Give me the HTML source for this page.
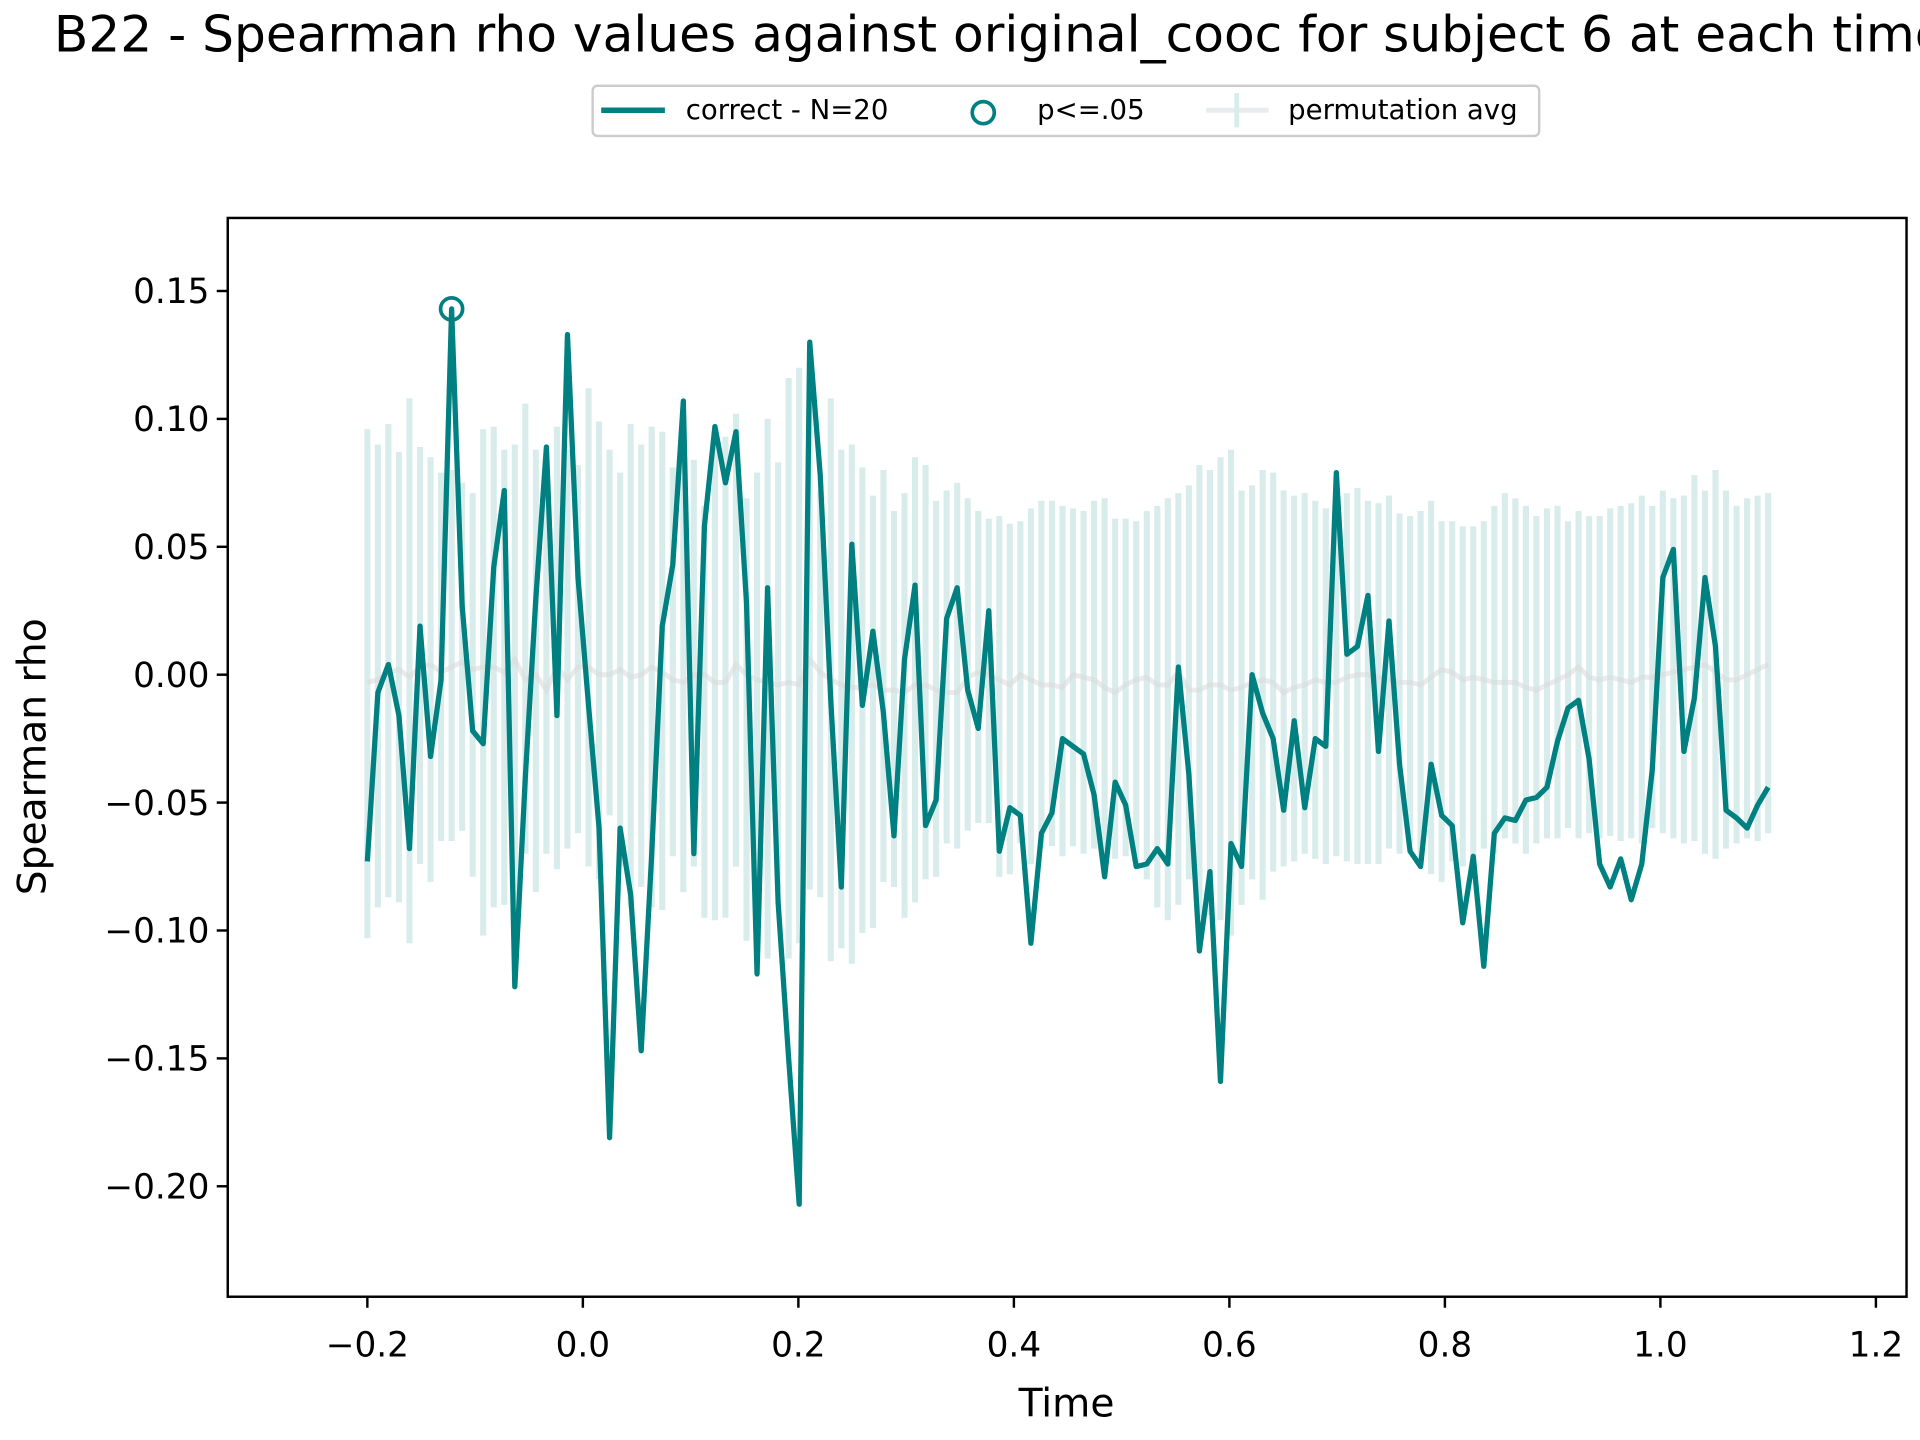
<!DOCTYPE html>
<html><head><meta charset="utf-8"><style>
html,body{margin:0;padding:0;background:#fff;}
svg{display:block;font-family:"DejaVu Sans","Liberation Sans",sans-serif;}
</style></head><body>
<svg id="chart" width="1920" height="1440" viewBox="0 0 1568 1176" preserveAspectRatio="none" xmlns="http://www.w3.org/2000/svg">
<rect width="1568" height="1176" fill="#fff"/>
<text x="44" y="42" font-size="41" fill="#000">B22 - Spearman rho values against original_cooc for subject 6 at each time</text>
<g id="plot"></g>
<rect x="186" y="178" width="1371" height="881" fill="none" stroke="#000" stroke-width="2"/>
<g id="ticks"></g>
<text x="871" y="1157" font-size="32" text-anchor="middle">Time</text>
<text transform="translate(37,618) rotate(-90)" font-size="32" text-anchor="middle">Spearman rho</text>
<g>
<rect x="484" y="70" width="773" height="41" rx="4" fill="#fff" stroke="#ccc" stroke-width="2"/>
<line x1="491" y1="90" x2="543" y2="90" stroke="#008080" stroke-width="4.5"/>
<text x="560" y="97" font-size="22.5">correct - N=20</text>
<circle cx="803" cy="92" r="9" fill="none" stroke="#008080" stroke-width="3"/>
<text x="847" y="97" font-size="22.5">p&lt;=.05</text>
<line x1="985" y1="90" x2="1036" y2="90" stroke="#e8ecec" stroke-width="4"/>
<line x1="1010" y1="76" x2="1010" y2="104" stroke="#d8ecec" stroke-width="4"/>
<text x="1052" y="97" font-size="22.5">permutation avg</text>
</g>
</svg>
<script>
const rho = [-0.073,-0.007,0.004,-0.016,-0.068,0.019,-0.032,-0.002,0.143,0.027,
-0.022,-0.027,0.042,0.072,-0.122,-0.04,0.03,0.089,-0.016,0.133,
0.038,-0.012,-0.06,-0.181,-0.06,-0.086,-0.147,-0.07,0.019,0.043,
0.107,-0.07,0.058,0.097,0.075,0.095,0.028,-0.117,0.034,-0.089,
-0.15,-0.207,0.13,0.078,-0.01,-0.083,0.051,-0.012,0.017,-0.015,
-0.063,0.006,0.035,-0.059,-0.049,0.022,0.034,-0.006,-0.021,0.025,
-0.069,-0.052,-0.055,-0.105,-0.062,-0.054,-0.025,-0.028,-0.031,-0.047,
-0.079,-0.042,-0.051,-0.075,-0.074,-0.068,-0.074,0.003,-0.039,-0.108,
-0.077,-0.159,-0.066,-0.075,0,-0.015,-0.025,-0.053,-0.018,-0.052,
-0.025,-0.028,0.079,0.008,0.011,0.031,-0.03,0.021,-0.035,-0.069,
-0.075,-0.035,-0.055,-0.059,-0.097,-0.071,-0.114,-0.062,-0.056,-0.057,
-0.049,-0.048,-0.044,-0.026,-0.013,-0.01,-0.033,-0.074,-0.083,-0.072,
-0.088,-0.074,-0.037,0.038,0.049,-0.03,-0.009,0.038,0.011,-0.053,
-0.056,-0.06,-0.051,-0.044];
const permUpper = [.096,.090,.098,.087,.108,.089,.085,.079,.080,.075,.071,.096,.097,.088,.090,.106,.088,.080,.097,.088,
.082,.112,.099,.088,.079,.098,.090,.097,.095,.081,.088,.084,.066,.096,.093,.102,.069,.079,.100,.083,
.116,.120,.108,.072,.108,.088,.090,.081,.070,.080,.064,.071,.085,.082,.068,.072,.075,.069,.064,.061,
.062,.059,.060,.065,.068,.068,.066,.065,.064,.068,.069,.061,.061,.060,.064,.066,.069,.071,.074,.082,
.080,.085,.088,.072,.074,.080,.079,.072,.070,.071,.068,.065,.069,.071,.073,.068,.067,.070,.063,.062,
.064,.068,.060,.060,.058,.058,.060,.066,.071,.069,.066,.062,.065,.066,.060,.064,.062,.062,.065,.066,
.067,.070,.066,.072,.069,.070,.078,.072,.080,.072,.066,.069,.070,.071];
const permLower = [-0.103,-0.091,-0.087,-0.089,-0.105,-0.074,-0.081,-0.065,-0.065,-0.061,-0.079,-0.102,-0.091,-0.090,-0.096,-0.070,-0.085,-0.070,-0.076,-0.068,
-0.062,-0.075,-0.080,-0.055,-0.075,-0.091,-0.083,-0.091,-0.092,-0.071,-0.085,-0.075,-0.095,-0.096,-0.095,-0.075,-0.104,-0.100,-0.111,-0.084,
-0.111,-0.105,-0.084,-0.087,-0.112,-0.107,-0.113,-0.101,-0.099,-0.081,-0.083,-0.095,-0.089,-0.080,-0.079,-0.066,-0.068,-0.061,-0.058,-0.058,
-0.079,-0.078,-0.066,-0.074,-0.068,-0.067,-0.071,-0.067,-0.070,-0.068,-0.070,-0.072,-0.071,-0.075,-0.080,-0.091,-0.096,-0.090,-0.080,-0.095,
-0.094,-0.096,-0.102,-0.090,-0.080,-0.088,-0.077,-0.075,-0.073,-0.070,-0.072,-0.074,-0.071,-0.073,-0.074,-0.074,-0.074,-0.068,-0.070,-0.066,
-0.072,-0.078,-0.081,-0.073,-0.075,-0.078,-0.068,-0.070,-0.064,-0.066,-0.070,-0.066,-0.064,-0.064,-0.060,-0.064,-0.062,-0.064,-0.063,-0.065,
-0.064,-0.066,-0.060,-0.062,-0.064,-0.066,-0.065,-0.070,-0.072,-0.068,-0.066,-0.064,-0.065,-0.062];
const permAvg = [-0.003,-0.002,0.001,0.002,-0.001,0.003,0.004,0.001,0.003,0.005,
0.002,0.003,0.003,0.001,0.006,-0.002,0.000,-0.006,0.003,-0.002,
0.003,0.003,0.000,0.000,0.002,-0.001,0.000,0.003,0.001,-0.002,
-0.003,0.000,0.000,-0.003,-0.003,0.004,0.000,-0.002,-0.003,-0.004,
-0.003,-0.004,0.006,0.001,-0.002,-0.004,-0.005,-0.005,-0.004,-0.006,
-0.006,-0.007,-0.004,-0.004,-0.006,-0.007,-0.007,-0.001,0.001,0.000,
-0.002,-0.004,0.000,-0.002,-0.004,-0.004,-0.005,0.000,-0.001,-0.002,
-0.005,-0.007,-0.004,-0.002,-0.001,-0.004,-0.004,0.001,-0.006,-0.006,
-0.004,-0.004,-0.006,-0.005,-0.003,-0.002,-0.003,-0.007,-0.005,-0.004,
-0.002,-0.003,-0.003,-0.001,0.000,0.000,-0.001,-0.002,-0.003,-0.003,
-0.004,-0.001,0.002,0.001,-0.002,-0.001,-0.002,-0.003,-0.003,-0.003,
-0.005,-0.006,-0.004,-0.002,0.000,0.003,-0.001,-0.002,-0.001,-0.002,
-0.003,-0.001,-0.001,0.000,0.001,0.002,0.003,0.004,0.001,-0.002,
-0.002,0.000,0.002,0.004];
const sigIndex = [8];
const xTicks = [-0.2,0.0,0.2,0.4,0.6,0.8,1.0,1.2];
const xTickLabels = ["\u22120.2","0.0","0.2","0.4","0.6","0.8","1.0","1.2"];
const yTicks = [0.15,0.10,0.05,0.00,-0.05,-0.10,-0.15,-0.20];
const yTickLabels = ["0.15","0.10","0.05","0.00","\u22120.05","\u22120.10","\u22120.15","\u22120.20"];
const tStart = -0.2, tEnd = 1.1;

const NS = "http://www.w3.org/2000/svg";
function sx(t){ return 300 + (t - (-0.2)) * 880; }
function sy(v){ return 551 - v * 2089; }
const n = rho.length;
const times = rho.map((_, i) => tStart + i * (tEnd - tStart) / (n - 1));
const plot = document.getElementById('plot');
function mk(tag, attrs){ const e = document.createElementNS(NS, tag); for (const k in attrs) e.setAttribute(k, attrs[k]); return e; }

for (let i = 0; i < n; i++) {
  const b = mk('line', {x1: sx(times[i]), x2: sx(times[i]), y1: sy(permUpper[i]), y2: sy(permLower[i]), stroke: '#008080', 'stroke-opacity': 0.15, 'stroke-width': 5});
  
  
  plot.appendChild(b);
}
const avg = mk('polyline', {points: times.map((t, i) => sx(t) + ',' + sy(permAvg[i])).join(' '), fill: 'none', stroke: '#d8d8d8', 'stroke-opacity': 0.55, 'stroke-width': 4});


plot.appendChild(avg);
const line = mk('polyline', {points: times.map((t, i) => sx(t) + ',' + sy(rho[i])).join(' '), fill: 'none', stroke: '#008080', 'stroke-width': 4.3, 'stroke-linejoin': 'round'});


plot.appendChild(line);
sigIndex.forEach(i => {
  const c = mk('circle', {cx: sx(times[i]), cy: sy(rho[i]), r: 9, fill: 'none', stroke: '#008080', 'stroke-width': 3});
  
  
  plot.appendChild(c);
});

const tg = document.getElementById('ticks');
xTicks.forEach((t, i) => {
  const l = mk('line', {x1: sx(t), x2: sx(t), y1: 1059, y2: 1068, stroke: '#000', 'stroke-width': 2});
  
  
  tg.appendChild(l);
  const tx = mk('text', {x: sx(t), y: 1108, 'font-size': 28, 'text-anchor': 'middle'});
  tx.textContent = xTickLabels[i];
  
  
  tg.appendChild(tx);
});
yTicks.forEach((v, i) => {
  const l = mk('line', {x1: 177, x2: 186, y1: sy(v), y2: sy(v), stroke: '#000', 'stroke-width': 2});
  
  
  tg.appendChild(l);
  const tx = mk('text', {x: 171, y: sy(v) + 10, 'font-size': 28, 'text-anchor': 'end'});
  tx.textContent = yTickLabels[i];
  
  
  tg.appendChild(tx);
});
</script>
</body></html>
